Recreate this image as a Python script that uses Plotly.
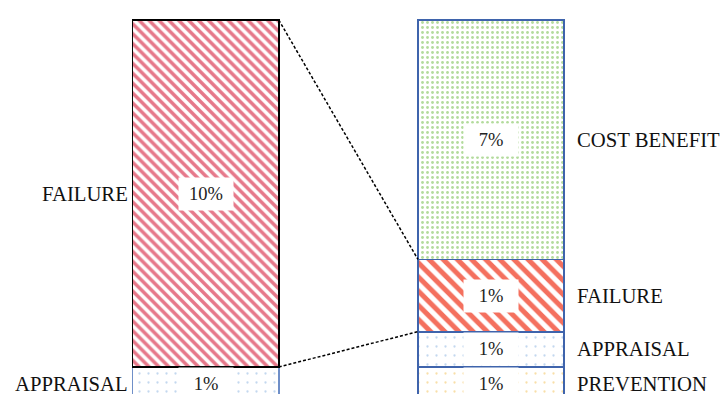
import plotly.graph_objects as go
import numpy as np

# ---- data ----
left_categories = ["APPRAISAL", "FAILURE"]
left_values = [1.0, 10.0]
left_labels = ["1%", "10%"]

right_categories = ["PREVENTION", "APPRAISAL", "FAILURE", "COST BENEFIT"]
right_values = [1.0, 1.02, 2.08, 6.9]
right_labels = ["1%", "1%", "1%", "7%"]

bar_positions = [0, 1]

# ---- styles ----
BAR_W = 0.512
FONT = "Liberation Serif, Times New Roman, serif"

left_styles = {
    "APPRAISAL": dict(shape=".", fg="#C3D8EF", size=9, sol=0.05, line="#6F8FC8", lw=1.5),
    "FAILURE": dict(shape="\\", fg="#E6788A", size=7, sol=0.5, line="#000000", lw=1.5),
}
right_styles = {
    "PREVENTION": dict(shape=".", fg="#F9DFA8", size=9, sol=0.05, line="#3F64AC", lw=1.8),
    "APPRAISAL": dict(shape=".", fg="#C3D8EF", size=9, sol=0.05, line="#3F64AC", lw=1.8),
    "FAILURE": dict(shape="\\", fg="#F4705E", size=10, sol=0.5, line="#3F64AC", lw=1.8),
    "COST BENEFIT": dict(shape=".", fg="#B3DB9C", size=5, sol=0.25, line="#3F64AC", lw=1.8),
}

fig = go.Figure()
annotations = []


def add_bar(xpos, cats, vals, labels, styles, side):
    cum = np.cumsum([0] + vals)
    for i, (c, v, lab) in enumerate(zip(cats, vals, labels)):
        s = styles[c]
        fig.add_trace(go.Bar(
            x=[xpos], y=[v], width=BAR_W,
            marker=dict(
                color="white",
                pattern=dict(shape=s["shape"], fgcolor=s["fg"], bgcolor="white",
                             size=s["size"], solidity=s["sol"], fillmode="replace"),
                line=dict(color=s["line"], width=s["lw"]),
            ),
            hoverinfo="skip", showlegend=False,
        ))
        mid = (cum[i] + cum[i + 1]) / 2
        annotations.append(dict(
            x=xpos, y=mid, xref="x", yref="y", text=lab, showarrow=False,
            font=dict(family=FONT, size=18.5, color="#222222"),
            bgcolor="white", width=54, height=32, borderpad=0,
        ))
        if side == "left":
            annotations.append(dict(
                x=xpos - BAR_W / 2, y=mid, xref="x", yref="y", text=c, showarrow=False,
                xanchor="right", xshift=-3,
                font=dict(family=FONT, size=20.7, color="#111111"),
            ))
        else:
            annotations.append(dict(
                x=xpos + BAR_W / 2, y=mid, xref="x", yref="y", text=c, showarrow=False,
                xanchor="left", xshift=11,
                font=dict(family=FONT, size=20.7, color="#111111"),
            ))
    return cum


lcum = add_bar(bar_positions[0], left_categories, left_values, left_labels, left_styles, "left")
rcum = add_bar(bar_positions[1], right_categories, right_values, right_labels, right_styles, "right")

# connector lines from left FAILURE segment to right FAILURE segment
fi_l = left_categories.index("FAILURE")
fi_r = right_categories.index("FAILURE")
shapes = [
    dict(type="line", xref="x", yref="y",
         x0=bar_positions[0] + BAR_W / 2, y0=lcum[fi_l + 1],
         x1=bar_positions[1] - BAR_W / 2, y1=rcum[fi_r + 1],
         line=dict(color="black", width=1.5, dash="3px,2px")),
    dict(type="line", xref="x", yref="y",
         x0=bar_positions[0] + BAR_W / 2, y0=lcum[fi_l],
         x1=bar_positions[1] - BAR_W / 2, y1=rcum[fi_r],
         line=dict(color="black", width=1.5, dash="3px,2px")),
]

fig.update_layout(
    width=723, height=394,
    margin=dict(l=0, r=0, t=0, b=0),
    barmode="stack",
    paper_bgcolor="white", plot_bgcolor="white",
    xaxis=dict(visible=False, range=[-0.7213, 1.8133], fixedrange=True),
    yaxis=dict(visible=False, range=[0.222, 11.576], fixedrange=True),
    annotations=annotations,
    shapes=shapes,
    showlegend=False,
)

fig.write_html("out.html")
